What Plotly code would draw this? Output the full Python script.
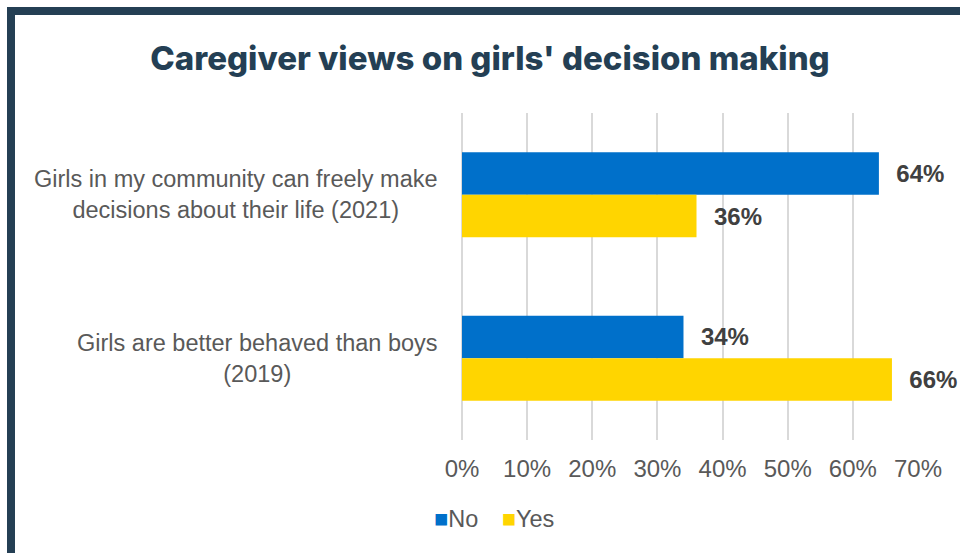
import plotly.graph_objects as go

# Survey statements (top to bottom) and share of answers
categories = [
    "Girls in my community can freely make<br>decisions about their life (2021)",
    "Girls are better behaved than boys<br>(2019)",
]
series_names = ["No", "Yes"]
no_values = [0.64, 0.34]
yes_values = [0.36, 0.66]
tick_values = [0, 0.1, 0.2, 0.3, 0.4, 0.5, 0.6, 0.7]
tick_labels = ["0%", "10%", "20%", "30%", "40%", "50%", "60%", "70%"]

W, H = 960, 553
NAVY = "#243F54"
GREY = "#595959"
LABEL = "#404040"
BLUE = "#0070CA"
YELLOW = "#FFD500"
FONT = "Liberation Sans, Arial"
PAD = "\u2009\u2009\u2009"

fig = go.Figure()
for name, values, color in [(series_names[0], no_values, BLUE),
                            (series_names[1], yes_values, YELLOW)]:
    fig.add_trace(go.Bar(
        name=name, y=categories, x=values, orientation="h",
        marker=dict(color=color, line=dict(width=0)),
        text=[PAD + f"{v:.0%}" for v in values], textposition="outside",
        textfont=dict(family=FONT, size=24, color=LABEL, weight="bold"),
        cliponaxis=False, showlegend=False,
    ))

# Category labels, centred line by line, right edge next to the axis
for cat in categories:
    fig.add_annotation(
        x=440 / W, xref="paper", xanchor="right",
        y=cat, yref="y", yanchor="middle",
        text=cat, showarrow=False, align="center",
        font=dict(family=FONT, size=23.5, color=GREY),
    )

# Compact legend: coloured square directly before each series name
legend_text = (
    f"<span style='color:{BLUE}'>\u25A0</span>{series_names[0]}"
    f"\u2003<span style='color:{YELLOW}'>\u25A0</span>{series_names[1]}"
)
fig.add_annotation(
    x=494 / W, xref="paper", xanchor="center",
    y=(H - 519) / H, yref="paper", yanchor="middle",
    text=legend_text, showarrow=False,
    font=dict(family=FONT, size=23.5, color=GREY),
)

# Dark frame around the card
fig.add_shape(
    type="rect", xref="paper", yref="paper",
    x0=11 / W, x1=1.2, y0=-0.2, y1=1 - 11 / H,
    line=dict(color=NAVY, width=8), fillcolor="rgba(0,0,0,0)", layer="above",
)

fig.update_layout(
    width=W, height=H, autosize=False,
    margin=dict(l=0, r=0, t=0, b=0, pad=0, autoexpand=False),
    paper_bgcolor="white", plot_bgcolor="white",
    barmode="group", bargap=0.48, bargroupgap=0,
    title=dict(
        text="Caregiver views on girls' decision making",
        x=490 / W, xanchor="center", y=1 - 58 / H, yanchor="middle",
        font=dict(family="Inter", size=33, color=NAVY, weight=800),
    ),
    xaxis=dict(
        domain=[462 / W, 918 / W], range=[0, 0.7], automargin=False,
        tickvals=tick_values, ticktext=tick_labels,
        showgrid=True, gridcolor="#D9D9D9", gridwidth=1.5,
        zeroline=True, zerolinecolor="#D9D9D9", zerolinewidth=1.5,
        showline=False, ticks="outside", ticklen=7, tickcolor="rgba(0,0,0,0)",
        tickfont=dict(family=FONT, size=24, color=GREY),
        fixedrange=True,
    ),
    yaxis=dict(
        domain=[(H - 440) / H, (H - 113) / H], automargin=False,
        autorange="reversed", showticklabels=False, showgrid=False,
        zeroline=False, showline=False, fixedrange=True,
    ),
    showlegend=False,
)

fig.write_html("out.html")
